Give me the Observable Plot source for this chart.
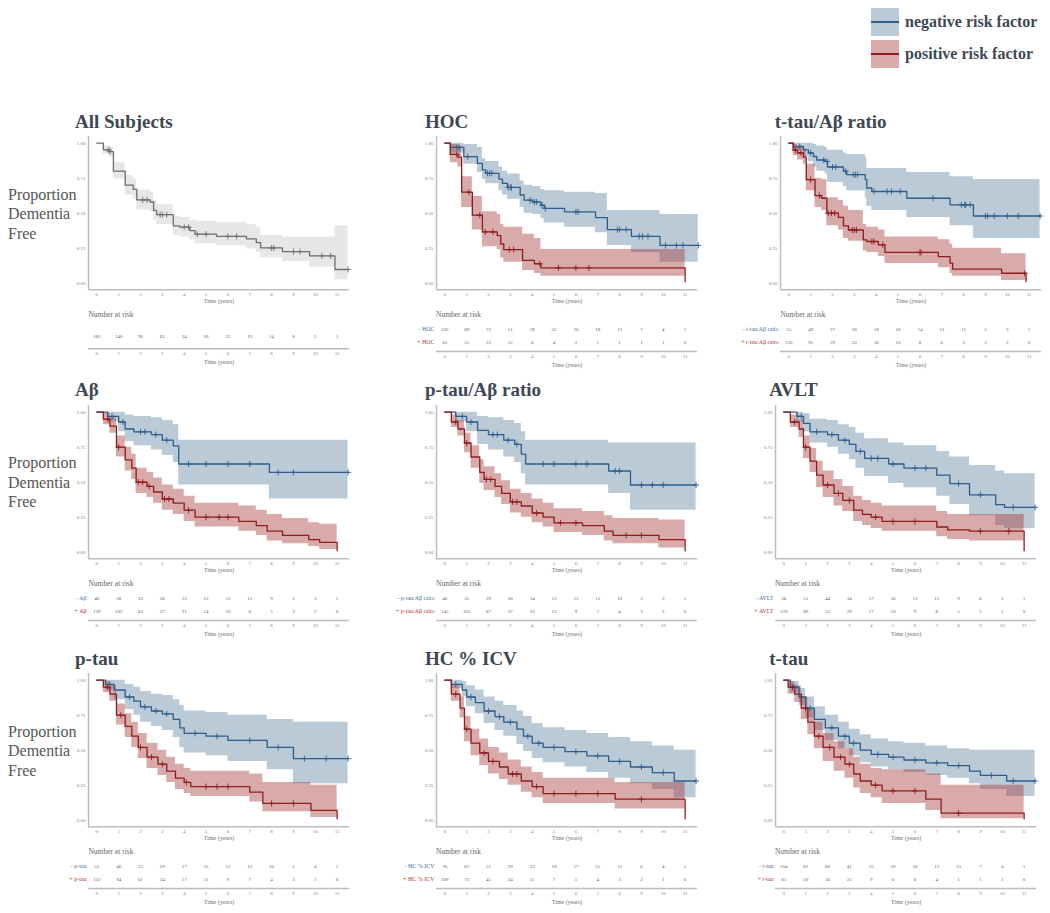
<!DOCTYPE html>
<html><head><meta charset="utf-8">
<script src="https://cdn.jsdelivr.net/npm/d3@7"></script>
<script src="https://cdn.jsdelivr.net/npm/@observablehq/plot@0.6"></script>
<style>
body{margin:0;background:#fff;}
#root{position:relative;width:1050px;height:913px;overflow:hidden;font-family:"Liberation Serif",serif;}
.abs{position:absolute;white-space:nowrap;}
.title{font-weight:bold;font-size:19px;line-height:20px;color:#3e4852;}
.ylab{font-size:16px;line-height:19.5px;color:#555;}
.nar{font-size:7.5px;line-height:8px;color:#666;}
.leg{font-weight:bold;font-size:16px;line-height:20px;color:#3e4852;}
svg{overflow:visible;}
</style></head><body><div id="root"></div>
<script>
// ---------- data ----------
const riskTimes = [0,1,2,3,4,5,6,7,8,9,10,11];
const yTicks = [0, 0.25, 0.5, 0.75, 1];

// rows: [time, survival, lower CI, upper CI]
const allCurve = [[0,1,1,1],[0.3,0.952,0.92,0.98],[0.6,0.94,0.9,0.975],[0.76,0.8,0.745,0.86],[1.3,0.7,0.63,0.77],[1.67,0.67,0.6,0.74],[1.83,0.595,0.525,0.665],[2.44,0.58,0.51,0.65],[2.6,0.52,0.45,0.59],[2.74,0.49,0.42,0.56],[3.5,0.41,0.34,0.48],[3.8,0.4,0.33,0.47],[4.26,0.376,0.31,0.45],[4.5,0.35,0.28,0.445],[5.48,0.335,0.265,0.435],[6.85,0.317,0.245,0.42],[7.3,0.29,0.22,0.4],[7.5,0.252,0.18,0.34],[8.5,0.226,0.155,0.33],[9.74,0.195,0.115,0.33],[10.9,0.098,0.025,0.41],[11.5,0.098,0.025,0.41]];
const allCens = [0.55,0.6,2.1,2.3,2.9,3.0,3.2,4.0,4.2,4.6,5.0,6.0,6.4,8.0,8.1,9.0,9.3,10.3,10.7,11.5];
const allRisk = [185,140,96,63,34,26,22,19,14,8,5,1];

const hocNeg = [[0,1,1,1],[0.26,0.97,0.93,1],[0.87,0.904,0.85,0.99],[1.49,0.856,0.79,0.97],[1.72,0.81,0.74,0.89],[1.87,0.785,0.71,0.87],[2.48,0.744,0.66,0.83],[2.64,0.713,0.63,0.8],[2.87,0.684,0.6,0.78],[3.45,0.63,0.54,0.73],[3.63,0.593,0.5,0.7],[4.02,0.58,0.49,0.69],[4.4,0.557,0.46,0.67],[4.55,0.534,0.43,0.66],[5.48,0.51,0.4,0.65],[6.9,0.469,0.36,0.64],[7.44,0.383,0.27,0.52],[8.54,0.335,0.22,0.52],[9.85,0.27,0.15,0.49],[11.6,0.27,0.15,0.49]];
const hocPos = [[0,1,1,1],[0.25,0.92,0.86,0.99],[0.6,0.9,0.83,0.98],[0.77,0.65,0.54,0.76],[1.26,0.486,0.38,0.62],[1.72,0.366,0.26,0.51],[2.4,0.34,0.24,0.49],[2.56,0.28,0.18,0.42],[2.7,0.24,0.15,0.4],[3.56,0.163,0.09,0.35],[4.1,0.139,0.07,0.32],[4.4,0.11,0.05,0.24],[10.95,0.11,0.05,0.24],[11.0,0.01,0.01,0.01]];
const hocNegCens = [0.55,0.65,1.05,1.95,2.05,2.15,2.9,3.0,3.05,3.9,4.1,4.2,4.45,4.6,6.0,6.1,7.9,8.0,8.3,8.9,9.05,9.3,10.1,10.6,10.9,11.6];
const hocPosCens = [0.55,1.1,1.6,1.85,2.2,2.95,3.15,4.35,5.2,6.0,6.6];
const hocRiskNeg = [102,89,73,51,28,22,20,18,13,7,4,1];
const hocRiskPos = [83,51,23,12,6,4,2,1,1,1,1,0];

const ttauAbNeg = [[0,1,1,1],[0.21,0.976,0.95,1],[0.67,0.952,0.9,1],[0.9,0.93,0.87,1],[1.13,0.905,0.83,0.99],[1.28,0.88,0.8,0.98],[1.66,0.87,0.78,0.97],[1.77,0.83,0.72,0.95],[2.5,0.8,0.69,0.93],[2.65,0.776,0.66,0.92],[3.5,0.74,0.61,0.9],[3.57,0.68,0.55,0.82],[3.8,0.655,0.52,0.82],[5.4,0.607,0.47,0.79],[7.38,0.56,0.41,0.76],[8.45,0.48,0.32,0.74],[11.5,0.48,0.32,0.74]];
const ttauAbPos = [[0,1,1,1],[0.2,0.95,0.91,0.99],[0.4,0.93,0.88,0.98],[0.67,0.9,0.85,0.96],[0.8,0.74,0.66,0.85],[1.2,0.626,0.54,0.75],[1.5,0.607,0.52,0.74],[1.74,0.5,0.41,0.61],[2.27,0.47,0.38,0.59],[2.5,0.41,0.32,0.55],[2.73,0.38,0.3,0.52],[3.41,0.31,0.23,0.42],[3.57,0.298,0.22,0.4],[4.1,0.274,0.19,0.38],[4.4,0.22,0.14,0.33],[6.84,0.19,0.11,0.31],[7.38,0.143,0.07,0.28],[7.5,0.1,0.05,0.25],[9.74,0.071,0.02,0.21],[10.85,0.071,0.02,0.21],[10.86,0.012,0.012,0.012]];
const ttauAbNegCens = [0.5,1.0,1.6,1.75,2.0,2.15,2.6,2.95,3.05,3.15,3.9,4.5,4.7,5.1,6.6,7.9,8.05,8.1,8.3,9.0,9.1,9.4,10.0,10.5,11.5];
const ttauAbPosCens = [0.3,0.55,1.0,1.4,1.8,1.95,2.1,2.9,3.0,3.1,3.8,3.9,4.3,6.0,6.05,10.8];
const ttauAbRiskNeg = [55,49,37,30,18,16,14,13,11,5,3,1];
const ttauAbRiskPos = [130,91,59,33,16,10,8,6,3,3,2,0];

const abNeg = [[0,1,1,1],[0.5,0.97,0.93,1],[1.0,0.93,0.86,1],[1.3,0.88,0.79,0.98],[1.7,0.86,0.76,0.97],[2.5,0.84,0.73,0.96],[3.0,0.8,0.69,0.94],[3.5,0.76,0.64,0.91],[3.75,0.63,0.48,0.8],[7.9,0.57,0.38,0.8],[11.5,0.57,0.38,0.8]];
const abPos = [[0,1,1,1],[0.3,0.95,0.91,0.99],[0.6,0.9,0.85,0.96],[0.9,0.75,0.68,0.83],[1.3,0.66,0.58,0.75],[1.6,0.6,0.52,0.7],[1.8,0.5,0.42,0.6],[2.3,0.47,0.39,0.57],[2.6,0.43,0.35,0.53],[3.0,0.38,0.3,0.48],[3.5,0.35,0.27,0.45],[4.0,0.3,0.22,0.4],[4.5,0.25,0.18,0.35],[6.5,0.22,0.15,0.33],[7.3,0.19,0.12,0.3],[7.8,0.15,0.08,0.27],[8.5,0.12,0.06,0.24],[9.7,0.09,0.04,0.21],[10.2,0.07,0.02,0.2],[10.95,0.07,0.02,0.2],[11.0,0.01,0.01,0.01]];
const abNegCens = [0.7,1.2,2.0,2.2,2.7,3.2,4.2,5.0,6.0,7.0,8.3,9.0,11.5];
const abPosCens = [0.5,1.0,1.9,2.1,2.4,3.1,3.3,4.2,5.0,5.6,6.0];
const abRiskNeg = [46,38,33,26,13,12,12,11,9,5,3,1];
const abRiskPos = [139,102,63,37,21,14,10,8,5,3,2,0];

const ptauAbNeg = [[0,1,1,1],[0.5,0.97,0.93,1],[1.0,0.93,0.86,1],[1.5,0.87,0.77,0.97],[2.0,0.84,0.73,0.96],[2.7,0.8,0.68,0.94],[3.2,0.77,0.64,0.92],[3.5,0.7,0.56,0.86],[3.7,0.63,0.48,0.8],[7.5,0.58,0.42,0.78],[8.5,0.48,0.3,0.78],[11.5,0.48,0.3,0.78]];
const ptauAbPos = [[0,1,1,1],[0.3,0.93,0.89,0.98],[0.6,0.88,0.83,0.94],[0.9,0.78,0.71,0.85],[1.2,0.68,0.6,0.76],[1.6,0.57,0.49,0.66],[1.8,0.52,0.44,0.61],[2.3,0.47,0.39,0.56],[2.6,0.42,0.34,0.51],[3.0,0.36,0.28,0.45],[3.5,0.33,0.25,0.42],[4.0,0.28,0.21,0.38],[4.5,0.25,0.18,0.35],[5.0,0.21,0.14,0.31],[6.3,0.19,0.12,0.29],[7.3,0.15,0.08,0.26],[7.7,0.12,0.06,0.24],[9.8,0.09,0.03,0.23],[10.95,0.09,0.03,0.23],[11.0,0.01,0.01,0.01]];
const ptauAbNegCens = [0.8,1.2,2.2,2.4,2.9,3.3,4.5,5.0,6.0,6.5,7.8,8.0,9.0,9.5,10.0,11.5];
const ptauAbPosCens = [0.5,1.0,1.9,2.1,3.1,3.3,4.2,5.3,6.0,8.3,9.0];
const ptauAbRiskNeg = [40,35,29,26,14,13,13,12,10,5,3,1];
const ptauAbRiskPos = [145,105,67,37,20,13,9,7,4,3,2,0];

const avltNeg = [[0,1,1,1],[0.6,0.97,0.93,1],[0.9,0.92,0.86,0.99],[1.2,0.86,0.78,0.95],[2.0,0.84,0.75,0.94],[2.5,0.8,0.7,0.91],[3.0,0.77,0.66,0.89],[3.3,0.72,0.6,0.85],[3.7,0.67,0.54,0.81],[4.8,0.63,0.49,0.78],[5.5,0.6,0.46,0.76],[7.0,0.55,0.4,0.72],[7.6,0.49,0.34,0.68],[8.5,0.41,0.26,0.62],[9.7,0.34,0.19,0.58],[10.1,0.32,0.17,0.56],[11.5,0.32,0.17,0.56]];
const avltPos = [[0,1,1,1],[0.3,0.93,0.89,0.98],[0.7,0.88,0.82,0.94],[0.9,0.75,0.67,0.83],[1.2,0.65,0.57,0.74],[1.5,0.55,0.46,0.65],[1.8,0.48,0.39,0.58],[2.3,0.42,0.33,0.52],[2.7,0.37,0.29,0.47],[3.2,0.3,0.22,0.4],[3.6,0.27,0.19,0.37],[4.0,0.25,0.17,0.35],[4.5,0.22,0.15,0.33],[7.0,0.18,0.11,0.29],[7.5,0.16,0.09,0.27],[8.5,0.15,0.08,0.27],[10.95,0.15,0.08,0.27],[11.0,0.01,0.01,0.01]];
const avltNegCens = [0.8,1.5,2.2,2.8,3.5,4.0,4.3,5.0,6.0,6.5,8.0,9.0,10.5,11.5];
const avltPosCens = [0.5,1.0,2.0,2.5,3.0,4.2,5.0,6.0,9.0,10.3];
const avltRiskNeg = [56,51,44,34,17,16,13,11,9,6,3,1];
const avltRiskPos = [129,89,52,29,17,10,9,8,5,2,2,0];

const ptauNeg = [[0,1,1,1],[0.4,0.97,0.93,1],[0.8,0.93,0.86,1],[1.3,0.88,0.79,0.97],[1.7,0.85,0.75,0.95],[2.0,0.81,0.7,0.92],[2.5,0.78,0.67,0.9],[3.0,0.76,0.64,0.89],[3.5,0.72,0.59,0.86],[3.8,0.66,0.52,0.82],[4.0,0.62,0.48,0.78],[5.0,0.6,0.46,0.77],[6.0,0.57,0.42,0.75],[7.8,0.52,0.36,0.72],[9.0,0.44,0.26,0.7],[11.5,0.44,0.26,0.7]];
const ptauPos = [[0,1,1,1],[0.3,0.95,0.91,0.99],[0.6,0.9,0.85,0.96],[0.9,0.75,0.68,0.83],[1.3,0.67,0.59,0.76],[1.6,0.6,0.52,0.7],[1.9,0.52,0.44,0.62],[2.3,0.45,0.37,0.55],[2.8,0.4,0.32,0.5],[3.2,0.35,0.27,0.45],[3.6,0.3,0.22,0.4],[4.0,0.27,0.19,0.37],[4.3,0.24,0.17,0.35],[7.0,0.2,0.13,0.33],[7.6,0.12,0.06,0.27],[9.8,0.07,0.02,0.25],[10.95,0.07,0.02,0.25],[11.0,0.01,0.01,0.01]];
const ptauNegCens = [0.6,1.5,2.2,2.7,3.2,4.5,5.5,7.0,8.3,9.5,10.5,11.5];
const ptauPosCens = [0.5,1.1,2.0,2.5,3.0,4.1,5.0,5.5,6.0,8.0,9.0];
const ptauRiskNeg = [53,46,35,29,17,15,13,12,10,5,4,1];
const ptauRiskPos = [132,94,61,34,17,11,9,7,4,3,1,0];

const hcNeg = [[0,1,1,1],[0.3,0.97,0.94,1],[0.8,0.93,0.88,0.99],[1.0,0.88,0.81,0.96],[1.4,0.84,0.76,0.93],[1.8,0.78,0.69,0.88],[2.3,0.74,0.64,0.85],[2.7,0.7,0.6,0.82],[3.3,0.65,0.54,0.78],[3.6,0.6,0.49,0.74],[4.0,0.55,0.44,0.69],[4.5,0.52,0.41,0.66],[5.5,0.49,0.38,0.64],[6.5,0.46,0.34,0.62],[7.5,0.42,0.3,0.59],[8.5,0.38,0.26,0.56],[9.5,0.34,0.22,0.53],[10.5,0.28,0.16,0.5],[11.5,0.28,0.16,0.5]];
const hcPos = [[0,1,1,1],[0.3,0.9,0.85,0.96],[0.7,0.8,0.73,0.88],[0.9,0.65,0.56,0.74],[1.2,0.55,0.46,0.65],[1.6,0.48,0.39,0.58],[2.0,0.42,0.33,0.52],[2.5,0.38,0.29,0.48],[2.9,0.33,0.25,0.43],[3.5,0.28,0.2,0.38],[4.0,0.24,0.16,0.34],[4.5,0.19,0.12,0.3],[7.8,0.15,0.08,0.27],[10.95,0.15,0.08,0.27],[11.0,0.01,0.01,0.01]];
const hcNegCens = [0.5,1.2,2.0,2.5,3.0,3.8,4.3,5.0,6.0,7.0,8.0,9.0,10.0,11.5];
const hcPosCens = [0.5,1.0,1.8,2.2,3.1,3.3,4.2,5.0,6.0,7.0,9.0];
const hcRiskNeg = [76,67,51,39,23,19,17,15,11,6,4,1];
const hcRiskPos = [109,73,45,24,11,7,5,4,3,2,1,0];

const ttauNeg = [[0,1,1,1],[0.3,0.95,0.91,0.99],[0.7,0.88,0.82,0.94],[1.0,0.8,0.73,0.88],[1.4,0.72,0.64,0.81],[1.9,0.66,0.57,0.75],[2.5,0.6,0.51,0.7],[3.0,0.55,0.46,0.65],[3.5,0.5,0.41,0.61],[4.0,0.47,0.38,0.58],[4.8,0.45,0.36,0.56],[5.5,0.43,0.34,0.55],[6.5,0.41,0.32,0.53],[7.5,0.39,0.3,0.51],[8.5,0.35,0.26,0.5],[9.0,0.32,0.22,0.5],[10.2,0.28,0.17,0.5],[11.5,0.28,0.17,0.5]];
const ttauPos = [[0,1,1,1],[0.2,0.95,0.9,0.99],[0.5,0.9,0.84,0.96],[0.8,0.8,0.72,0.88],[1.1,0.7,0.61,0.79],[1.4,0.6,0.51,0.7],[1.8,0.52,0.42,0.62],[2.3,0.45,0.35,0.56],[2.8,0.4,0.3,0.51],[3.2,0.33,0.23,0.45],[3.5,0.28,0.19,0.4],[4.0,0.25,0.16,0.37],[4.5,0.21,0.12,0.36],[6.5,0.15,0.07,0.33],[7.2,0.05,0.01,0.25],[10.95,0.05,0.01,0.25],[11.0,0.01,0.01,0.01]];
const ttauNegCens = [0.5,1.2,2.2,2.8,3.2,4.3,5.0,6.0,7.0,8.0,9.5,10.5,11.5];
const ttauPosCens = [0.4,1.0,1.6,2.1,2.6,3.0,4.2,5.0,6.0,8.0];
const ttauRiskNeg = [104,81,60,41,25,20,16,15,13,7,4,1];
const ttauRiskPos = [81,59,36,22,9,6,6,4,1,1,1,0];

const panelTitles = ["All Subjects","HOC","t-tau/Aβ ratio","Aβ","p-tau/Aβ ratio","AVLT","p-tau","HC % ICV","t-tau"];
const riskLabels = [null,"HOC","t-tau/Aβ ratio","Aβ","p-tau/Aβ ratio","AVLT","p-tau","HC % ICV","t-tau"];
const legendLabels = ["negative risk factor","positive risk factor"];

// ---------- styling / layout ----------
const C = {
  blueLine:"#2f5d8c", blueFill:"#4a7396", blueText:"#4b73a0",
  redLine:"#8e1c1f", redFill:"#a33434", redText:"#b23a3a",
  grayLine:"#6e6e6e", grayFill:"#a8a8a8",
  axis:"#bdbdbd", tick:"#808080", title:"#3e4852"
};
const FONT = '"Liberation Serif", serif';
const xDomain = [-0.38, 11.57];
const yDomain = [-0.047, 1.048];
// pixel of t = 0 for each panel (row-major)
const panelX0 = [96.7, 444.3, 788.7, 96.7, 444.3, 783.2, 96.7, 444.3, 783.2];
const titleDx = [-13.4, -11, -5.7];
const pxPerYear = 21.85;
const rowTop = [136, 404.7, 673.4];
const plotW = (xDomain[1]-xDomain[0])*pxPerYear;
const plotH = 153.3;
const ML = 25, MB = 22;
const TICK_FS = 5;

const panels = [
  {single:true, a:allCurve, ac:allCens, r:allRisk},
  {a:hocNeg, b:hocPos, ac:hocNegCens, bc:hocPosCens, r:hocRiskNeg, s:hocRiskPos},
  {a:ttauAbNeg, b:ttauAbPos, ac:ttauAbNegCens, bc:ttauAbPosCens, r:ttauAbRiskNeg, s:ttauAbRiskPos},
  {a:abNeg, b:abPos, ac:abNegCens, bc:abPosCens, r:abRiskNeg, s:abRiskPos},
  {a:ptauAbNeg, b:ptauAbPos, ac:ptauAbNegCens, bc:ptauAbPosCens, r:ptauAbRiskNeg, s:ptauAbRiskPos},
  {a:avltNeg, b:avltPos, ac:avltNegCens, bc:avltPosCens, r:avltRiskNeg, s:avltRiskPos},
  {a:ptauNeg, b:ptauPos, ac:ptauNegCens, bc:ptauPosCens, r:ptauRiskNeg, s:ptauRiskPos},
  {a:hcNeg, b:hcPos, ac:hcNegCens, bc:hcPosCens, r:hcRiskNeg, s:hcRiskPos},
  {a:ttauNeg, b:ttauPos, ac:ttauNegCens, bc:ttauPosCens, r:ttauRiskNeg, s:ttauRiskPos}
];

function stepAt(curve, t){
  let s = curve[0][1];
  for (const row of curve) { if (row[0] <= t) s = row[1]; }
  return s;
}

function kmPlot(p){
  const groups = p.single
    ? [{d:p.a, c:p.ac, line:C.grayLine, fill:C.grayFill, op:0.28}]
    : [{d:p.a, c:p.ac, line:C.blueLine, fill:C.blueFill, op:0.38},
       {d:p.b, c:p.bc, line:C.redLine, fill:C.redFill, op:0.42}];
  const marks = [];
  for (const g of groups) marks.push(Plot.areaY(g.d, {x:d=>d[0], y1:d=>d[2], y2:d=>d[3], curve:"step-after", fill:g.fill, fillOpacity:g.op}));
  for (const g of groups) marks.push(Plot.line(g.d, {x:d=>d[0], y:d=>d[1], curve:"step-after", stroke:g.line, strokeWidth:1.3}));
  for (const g of groups) marks.push(Plot.dot(g.c, {x:d=>d, y:d=>stepAt(g.d,d), symbol:"plus", r:2.1, stroke:g.line, strokeWidth:0.9}));
  marks.push(Plot.ruleX([xDomain[0]], {stroke:C.axis, strokeWidth:1.5}));
  marks.push(Plot.ruleY([yDomain[0]], {stroke:C.axis, strokeWidth:1.5}));
  marks.push(Plot.axisX({ticks:riskTimes, tickSize:0, tickPadding:3, fontSize:TICK_FS, color:C.tick, label:null}));
  marks.push(Plot.axisY({ticks:yTicks, tickSize:0, tickPadding:3, tickFormat:".2f", fontSize:TICK_FS, color:C.tick, label:null}));
  marks.push(Plot.text(["Time (years)"], {text:d=>d, frameAnchor:"bottom", dy:13.4, fontSize:6, fill:"#707070"}));
  return Plot.plot({
    width: ML + plotW + 2, height: plotH + MB,
    marginLeft: ML, marginRight: 2, marginTop: 0, marginBottom: MB,
    x:{domain:xDomain}, y:{domain:yDomain},
    style:{fontFamily:FONT, background:"transparent", overflow:"visible"},
    marks
  });
}

const RML = 62;
function riskPlot(p, label){
  const areaH = p.single ? 28.3 : 31;
  const rows = p.single
    ? [{y:12.3, vals:p.r}]
    : [{y:22, vals:p.r, label:"- "+label, color:C.blueText}, {y:9, vals:p.s, label:"+ "+label, color:C.redText}];
  const cells = rows.flatMap(row => row.vals.map((v,i)=>({t:riskTimes[i], v:String(v), y:row.y})));
  const marks = [
    Plot.text(cells, {x:"t", y:"y", text:"v", fontSize:TICK_FS, fill:"#606060"}),
    Plot.ruleY([0], {stroke:C.axis, strokeWidth:1.5}),
    Plot.axisX({ticks:riskTimes, tickSize:0, tickPadding:3, fontSize:TICK_FS, color:C.tick, label:null}),
    Plot.text(["Time (years)"], {text:d=>d, frameAnchor:"bottom", dy:15.5, fontSize:6, fill:"#707070"})
  ];
  for (const row of rows) if (row.label) marks.push(Plot.text([row], {y:"y", text:"label", frameAnchor:"left", textAnchor:"end", dx:-2, fontSize:6, fill:row.color}));
  return Plot.plot({
    width: RML + plotW + 4, height: areaH + 20,
    marginLeft: RML, marginRight: 4, marginTop: 0, marginBottom: 20,
    x:{domain:xDomain}, y:{domain:[0, areaH], axis:null},
    style:{fontFamily:FONT, background:"transparent", overflow:"visible"},
    marks
  });
}

const root = document.getElementById("root");
function place(el, left, top){ el.style.position="absolute"; el.style.left=left+"px"; el.style.top=top+"px"; root.appendChild(el); return el; }
function div(cls, html, left, top){ const d=document.createElement("div"); d.className="abs "+cls; d.innerHTML=html; return place(d,left,top); }

panels.forEach((p,i)=>{
  const col = i%3, row = Math.floor(i/3);
  const axisLeft = panelX0[i] - (0 - xDomain[0])*pxPerYear;
  const top = rowTop[row];
  div("title", panelTitles[i], axisLeft+titleDx[col], top-24.3);
  place(kmPlot(p), axisLeft-ML, top);
  div("nar", "Number at risk", axisLeft, top+175);
  place(riskPlot(p, riskLabels[i]), axisLeft-RML, top+184);
  if (col===0) div("ylab", "Proportion<br>Dementia<br>Free", 8, top+48.5);
});

// legend
const legSpec = [{fill:C.blueFill, op:0.38, line:C.blueLine, top:8.3},{fill:C.redFill, op:0.42, line:C.redLine, top:40}];
legSpec.forEach((l,i)=>{
  const box = document.createElement("div");
  box.style.cssText = `width:28.6px;height:28px;background:${l.fill};opacity:${l.op};`;
  place(box, 870.7, l.top);
  const ln = document.createElement("div");
  ln.style.cssText = `width:28.6px;height:2px;background:${l.line};`;
  place(ln, 870.7, l.top+13);
  div("leg", legendLabels[i], 905, l.top+3.5);
});
</script>
</body></html>
